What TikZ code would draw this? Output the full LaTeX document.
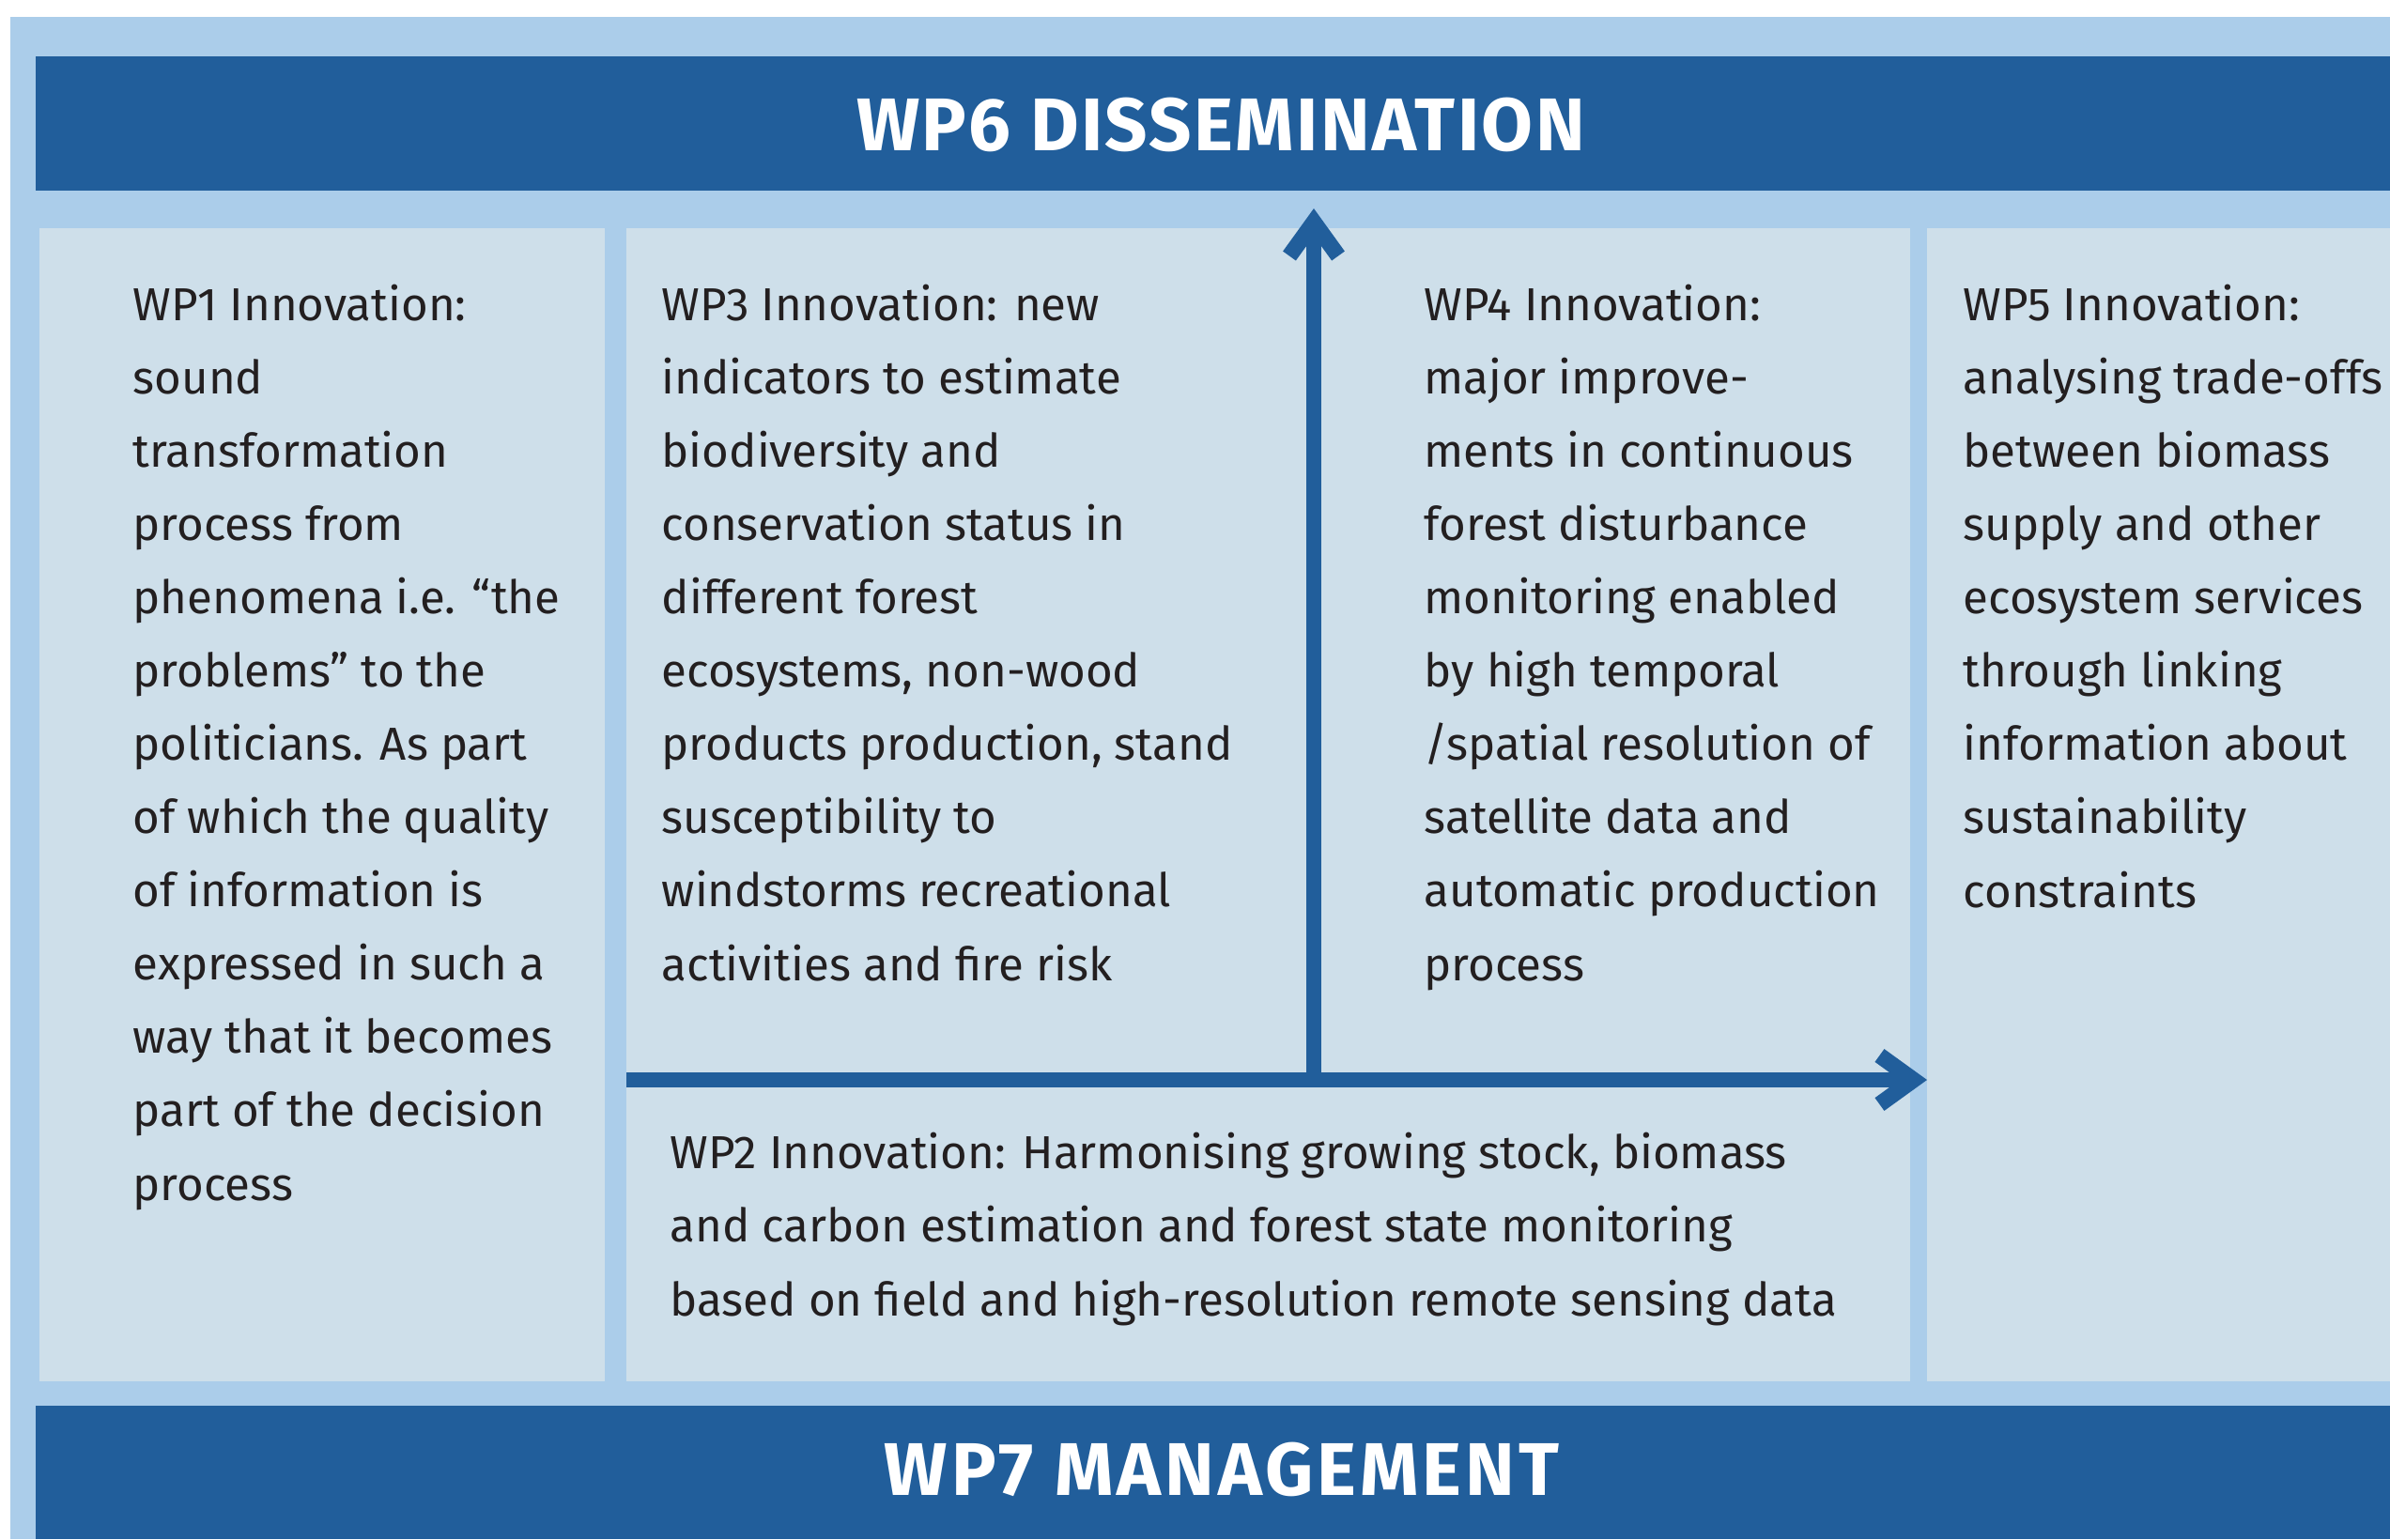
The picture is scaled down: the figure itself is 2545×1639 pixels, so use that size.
\documentclass[tikz,border=0pt]{standalone}
\usepackage{fontspec}
\setmainfont{Fira Sans}
\usetikzlibrary{arrows.meta}

\definecolor{wpdark}{RGB}{33,94,155}
\definecolor{wplight}{RGB}{171,205,234}
\definecolor{wppanel}{RGB}{206,223,234}
\definecolor{wpink}{RGB}{35,31,32}

\begin{document}
\begin{tikzpicture}[x=0.01cm, y=-0.01cm,
	bandtext/.style={text=white, inner sep=0, anchor=base,
		font=\fontsize{22.6pt}{26pt}\selectfont\bfseries\addfontfeatures{LetterSpace=3}},
	wptext/.style={text=wpink, inner sep=0, anchor=base west, align=left,
		font=\fontsize{14pt}{22.2pt}\selectfont},
	flow/.style={draw=wpdark, line width=0.16cm,
		-{Straight Barb[length=0.36cm, width=0.52cm, line width=0.17cm]}}]
	\useasboundingbox[fill=white] (0,0) rectangle (2545,1639);

	% frame, bands and panels
	\fill[wplight] (11,18) rectangle (2545,1639);
	\fill[wpdark] (38,60) rectangle (2545,203);
	\fill[wpdark] (38,1497) rectangle (2545,1639);
	\fill[wppanel] (42,243) rectangle (644,1471);
	\fill[wppanel] (667,243) rectangle (2034,1471);
	\fill[wppanel] (2052,243) rectangle (2545,1471);

	\node[bandtext] (WP6) at (1300,160) {WP6 DISSEMINATION};
	\node[bandtext] (WP7) at (1301,1592) {\addfontfeatures{LetterSpace=5}WP7 MANAGEMENT};

	% anchored at the baseline of the last line
	\node[wptext] (WP1) at (141,1278) {WP1 Innovation:\\sound\\transformation\\process from\\phenomena i.e. “the\\problems” to the\\politicians. As part\\of which the quality\\of information is\\expressed in such a\\way that it becomes\\part of the decision\\process};
	\node[wptext] (WP3) at (704,1044) {WP3 Innovation: new\\indicators to estimate\\biodiversity and\\conservation status in\\different forest\\ecosystems, non-wood\\products production, stand\\susceptibility to\\windstorms recreational\\activities and fire risk};
	\node[wptext] (WP4) at (1516,1044) {WP4 Innovation:\\major improve-\\ments in continuous\\forest disturbance\\monitoring enabled\\by high temporal\\/spatial resolution of\\satellite data and\\automatic production\\process};
	\node[wptext] (WP5) at (2090,966) {WP5 Innovation:\\analysing trade-offs\\between biomass\\supply and other\\ecosystem services\\through linking\\information about\\sustainability\\constraints};
	\node[wptext] (WP2) at (713,1401) {WP2 Innovation: Harmonising growing stock, biomass\\and carbon estimation and forest state monitoring\\based on field and high-resolution remote sensing data};

	\coordinate (hstart) at (667,1150);
	\coordinate (hend) at (2052,1150);
	\coordinate (vstart) at (1399,1150);
	\coordinate (vend) at (1399,222);

	\draw[flow] (hstart) to (hend);
	\draw[flow] (vstart) to (vend);
\end{tikzpicture}
\end{document}
